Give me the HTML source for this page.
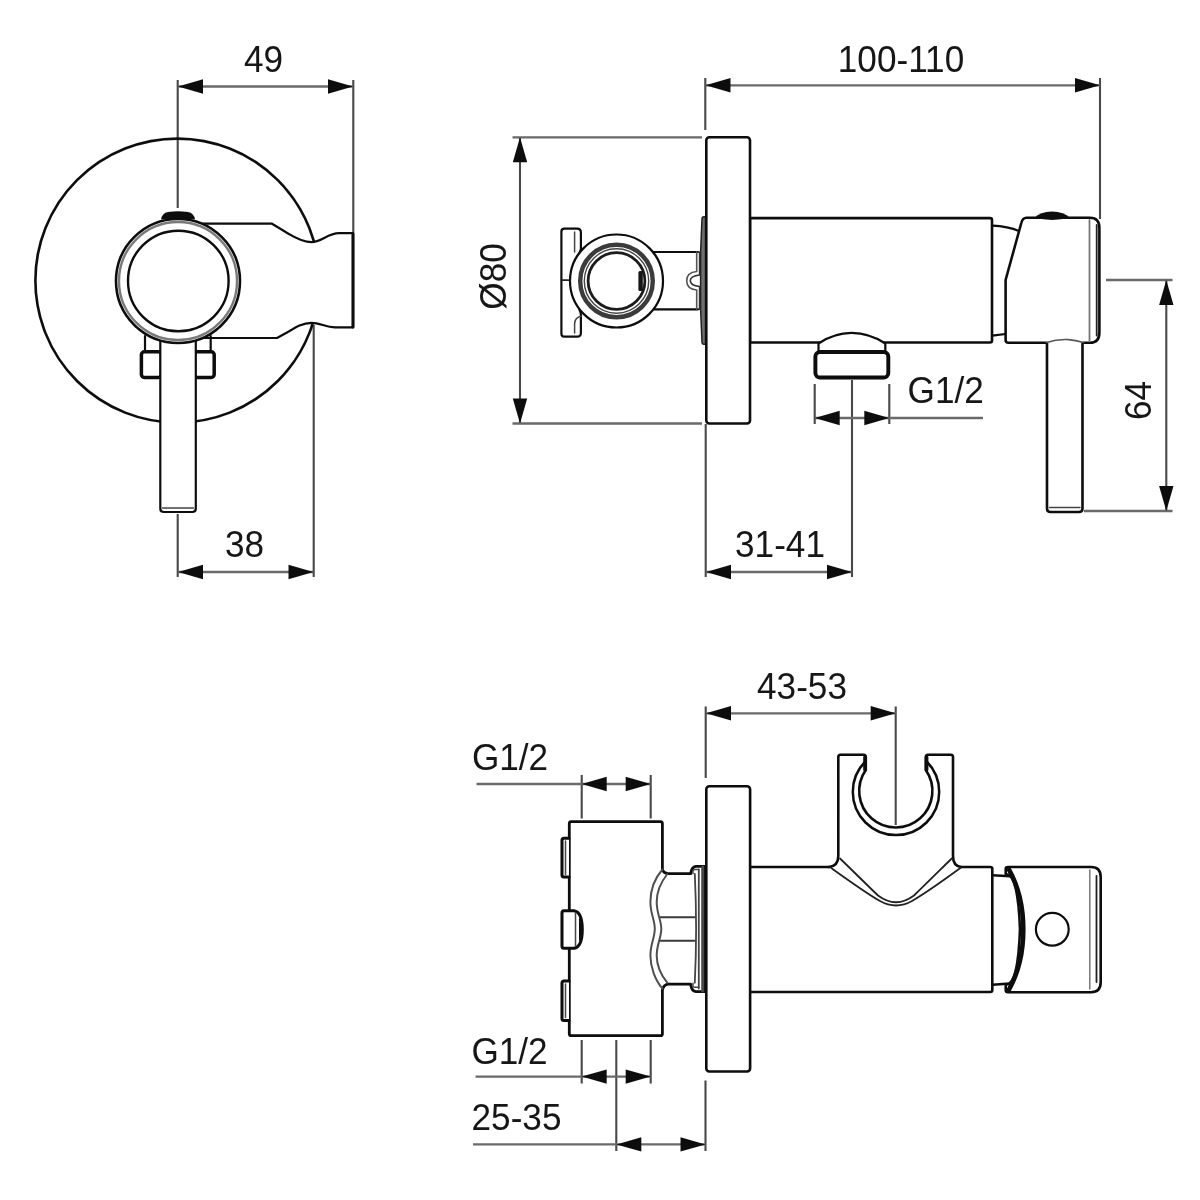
<!DOCTYPE html>
<html>
<head>
<meta charset="utf-8">
<title>Technical drawing</title>
<style>
html,body{margin:0;padding:0;background:#ffffff;}
body{width:1200px;height:1200px;overflow:hidden;font-family:"Liberation Sans",sans-serif;}
svg{display:block;}
text{font-family:"Liberation Sans",sans-serif;font-size:37.4px;fill:#161616;}
.o{fill:#ffffff;stroke:#0c0c0c;stroke-width:2.6;stroke-linejoin:round;stroke-linecap:round;}
.n{fill:none;stroke:#0c0c0c;stroke-width:2.6;stroke-linejoin:round;stroke-linecap:round;}
.k{fill:#ffffff;stroke:#0a0a0a;stroke-width:3.5;stroke-linejoin:round;stroke-linecap:round;}
.t{fill:none;stroke:#222;stroke-width:1.8;stroke-linecap:round;stroke-linejoin:round;}
.g{fill:none;stroke:#444;stroke-width:1.5;stroke-linecap:round;}
.d{fill:none;stroke:#454545;stroke-width:1.7;}
.dv{stroke:#484848;stroke-width:2.1;}
.dh{stroke:#6a6a6a;stroke-width:2.3;}
.a{fill:#111;stroke:none;}
.m{stroke-width:2.2 !important;}
</style>
</head>
<body>
<svg width="1200" height="1200" viewBox="0 0 1200 1200">
<defs>
<filter id="soft" x="-2%" y="-2%" width="104%" height="104%"><feGaussianBlur stdDeviation="0.62"/></filter>
</defs>
<rect x="0" y="0" width="1200" height="1200" fill="#ffffff"/>
<g filter="url(#soft)">

<!-- ================= VIEW 1 : front ================= -->
<g id="v1">
<!-- dimension 49 -->
<path class="d dv" d="M177.7,80 V208 M353.3,80 V234"/><path class="d dh" d="M178,86.5 H353"/>
<path class="a" d="M178,86.5 l25,-7.2 v14.4 z M353,86.5 l-25,-7.2 v14.4 z"/>
<text transform="translate(263.5,72) scale(0.94,1)" text-anchor="middle">49</text>
<!-- dimension 38 -->
<path class="d dv" d="M177.7,514 V577 M313.7,325 V577"/><path class="d dh" d="M178,572 H313.5"/>
<path class="a" d="M178,572 l25,-7.2 v14.4 z M313.5,572 l-25,-7.2 v14.4 z"/>
<text transform="translate(244.5,557) scale(0.94,1)" text-anchor="middle">38</text>
<!-- rosette -->
<circle class="n" cx="177.4" cy="280.6" r="142"/>
<!-- holder -->
<path class="o m" d="M200,223.7 L272,223.7 L284,231 C295,238 303,242.2 311.5,242.2 C321,242.2 328,233.2 339,233.2 L353,233.2 L353,327.3 L335,327.3 C326,327.3 320,322.8 311.5,322.8 C303,322.8 296,327 287,332.5 L277,338 L200,338 Z"/>
<path class="n" style="stroke-width:3" d="M353,234 V327"/>
<!-- screws -->
<path class="o m" d="M145,336 V351 M210.7,336 V351"/>
<rect class="k" x="141.4" y="351.8" width="20" height="25.7" rx="3"/>
<rect class="k" x="194.4" y="351.8" width="19.8" height="25.7" rx="3"/>
<!-- handle -->
<path class="o m" d="M160.3,330 V508.5 Q160.3,512 163.8,512 H192.3 Q195.8,512 195.8,508.5 V330 Z"/>
<path class="g" d="M162.5,508 H193.5"/>
<!-- button -->
<path class="a" d="M161,219.5 Q162,213 168,212 Q178,210.5 188,212 Q194,213 195,219.5 Z"/>
<!-- ring -->
<circle class="o" cx="178" cy="281" r="62"/>
<circle class="g" cx="178" cy="281" r="59" style="stroke-width:2.4;stroke:#7a7a7a"/>
<circle class="n" cx="178.3" cy="281" r="50.3" style="stroke-width:2.4"/>
</g>

<!-- ================= VIEW 2 : side ================= -->
<g id="v2">
<!-- dimension 100-110 -->
<path class="d dv" d="M705.3,78 V130 M1100,78 V219"/><path class="d dh" d="M705.5,85.3 H1100"/>
<path class="a" d="M705.5,85.3 l25,-7.2 v14.4 z M1100,85.3 l-25,-7.2 v14.4 z"/>
<text transform="translate(901,72) scale(0.94,1)" text-anchor="middle">100-110</text>
<!-- dimension dia 80 -->
<path class="d dv" d="M520,137.5 V423.5"/><path class="d dh" d="M512.5,137.3 H702 M512.5,423.5 H702"/>
<path class="a" d="M520,137.3 l-7.2,25 h14.4 z M520,423.5 l-7.2,-25 h14.4 z"/>
<text transform="translate(505.5,276.5) rotate(-90) scale(0.94,1)" text-anchor="middle">Ø80</text>
<!-- dimension 64 -->
<path class="d dv" d="M1166.3,280 V511"/><path class="d dh" d="M1106,280 H1172.5 M1084,511 H1172.5"/>
<path class="a" d="M1166.3,280 l-7.2,25 h14.4 z M1166.3,511 l-7.2,-25 h14.4 z"/>
<text transform="translate(1151,400.5) rotate(-90) scale(0.94,1)" text-anchor="middle">64</text>
<!-- dimension G1/2 -->
<path class="d dv" d="M814.7,384 V424 M889.3,384 V424 M852,380 V577"/><path class="d dh" d="M815,418 H983"/>
<path class="a" d="M814.7,418 l25,-7.2 v14.4 z M889.3,418 l-25,-7.2 v14.4 z"/>
<text transform="translate(945.7,403) scale(0.94,1)" text-anchor="middle">G1/2</text>
<!-- dimension 31-41 -->
<path class="d dv" d="M705.7,424 V577"/><path class="d dh" d="M706,572 H852"/>
<path class="a" d="M706,572 l25,-7.2 v14.4 z M852,572 l-25,-7.2 v14.4 z"/>
<text transform="translate(780,557) scale(0.94,1)" text-anchor="middle">31-41</text>

<!-- body -->
<path class="o" d="M750,218.1 H990 Q992,218.1 992,220.1 V340.5 Q992,342.5 990,342.5 H750 Z"/>
<!-- neck body-head -->
<path class="n m" d="M992.3,225.6 Q1008,226.3 1019,231 M992.3,335.6 L1005.5,334"/>
<!-- hose connector -->
<path class="o m" d="M818.5,352 V343.5 Q834,333 851.7,332.9 Q869.5,333 885.3,343.5 V352 Z"/>
<rect class="k" x="815.4" y="352" width="72.9" height="25.5" rx="4.5" style="stroke-width:3.9"/>
<!-- handle -->
<path class="o" d="M1047,336 V508.5 Q1047,512 1050.5,512 H1079 Q1082.5,512 1082.5,508.5 V336 Z"/>
<path class="g" d="M1049.5,507.5 H1080"/>
<!-- head -->
<path fill="#ffffff" stroke="none" d="M1026.5,217.8 H1090 Q1099.4,217.8 1099.4,228 V332.5 Q1099.4,342.8 1090,342.8 H1008.5 Q1005.6,342.8 1005.6,340 V280 L1021.3,223 Q1022.6,217.8 1026.5,217.8 Z"/>
<path class="n" d="M1046.5,342.8 H1008.5 Q1005.6,342.8 1005.6,340 V280 L1021.3,223 Q1022.6,217.8 1026.5,217.8 H1090 Q1099.4,217.8 1099.4,228 V332.5 Q1099.4,342.8 1090,342.8 H1083.5"/>
<path class="g" style="stroke:#555;stroke-width:1.7" d="M1046.5,342.5 Q1065,336.5 1083.5,342.5"/>
<path class="g" d="M1089.5,220 V340.5" style="stroke:#777;stroke-width:1.8"/>
<path class="t" d="M1096.7,225 V335.5"/>
<!-- button -->
<path class="a" d="M1034.5,217.8 Q1040,212 1052,211.5 Q1064,212 1070,217.8 Q1052,222 1034.5,217.8 Z"/>
<!-- shower holder side view: arm -->
<path fill="#ffffff" stroke="none" d="M654,252 H700 V309.3 H654 Z"/>
<path class="n m" d="M654,252 H698 M654,309.3 H698"/>
<path class="t" style="stroke:#555;stroke-width:1.6" d="M696.7,252 V271.5 Q686.7,272.5 686.7,280.7 Q686.7,289 696.7,290 V309.3"/>
<path class="t" style="stroke:#333;stroke-width:1.6" d="M699.6,252 V275 Q690.3,276 690.3,280.7 Q690.3,285.5 699.6,286.5 V309.3"/>
<!-- gasket -->
<path d="M705.5,216.7 H704 Q702,216.7 702,219 L700.6,252 V309.3 L702,342 Q702,344.3 704,344.3 H705.5 Z" fill="#6e6e6e" stroke="#222" stroke-width="1.5" stroke-linejoin="round"/>
<!-- plate -->
<rect class="o" x="706.3" y="137.3" width="43.7" height="286.2" rx="3"/>
<path class="o m" d="M564.4,228.7 H577 Q580.9,228.7 580.9,232.5 V249 L570,281 L580.9,314 Q580.9,320 580.9,322 V333 Q580.9,336.7 577,336.7 H564.4 Q561.4,336.7 561.4,333.7 V231.7 Q561.4,228.7 564.4,228.7 Z"/>
<path class="g" d="M574.6,232 V252 M574.6,333 V324 Q574.6,317.5 581.5,316"/>
<path class="t" d="M561.4,280.2 H569.5"/>
<circle class="o m" cx="616.5" cy="281" r="46.5"/>
<circle class="n" cx="616.5" cy="281" r="36.3" style="stroke-width:4.4;stroke:#3a3a3a"/>
<circle class="g" cx="616.5" cy="281" r="32.2" style="stroke:#444;stroke-width:1.4"/>
<circle class="n" cx="616.5" cy="281" r="28.4" style="stroke-width:2.8;stroke:#1a1a1a"/>
<rect x="638.4" y="271" width="4.4" height="20" rx="1.5" fill="#151515"/>
</g>

<!-- ================= VIEW 3 : top ================= -->
<g id="v3">
<!-- dimension 43-53 -->
<path class="d dv" d="M705.7,706.5 V778 M895.7,706.5 V825"/><path class="d dh" d="M706,713.3 H895.7"/>
<path class="a" d="M706,713.3 l25,-7.2 v14.4 z M895.7,713.3 l-25,-7.2 v14.4 z"/>
<text transform="translate(802,699) scale(0.94,1)" text-anchor="middle">43-53</text>
<!-- dimension G1/2 top -->
<path class="d dv" d="M581.7,775 V818.5 M650.7,775 V818.5"/><path class="d dh" d="M476.5,784 H650.7"/>
<path class="a" d="M581.7,784 l25,-7.2 v14.4 z M650.7,784 l-25,-7.2 v14.4 z"/>
<text transform="translate(510,769.5) scale(0.94,1)" text-anchor="middle">G1/2</text>
<!-- dimension G1/2 bottom -->
<path class="d dv" d="M581.7,1040 V1083.5 M650.7,1040 V1083.5 M616.3,1040 V1151"/><path class="d dh" d="M475.5,1076.6 H650.7"/>
<path class="a" d="M581.7,1076.6 l25,-7.2 v14.4 z M650.7,1076.6 l-25,-7.2 v14.4 z"/>
<text transform="translate(509.5,1063.5) scale(0.94,1)" text-anchor="middle">G1/2</text>
<!-- dimension 25-35 -->
<path class="d dv" d="M705.5,1080.5 V1151"/><path class="d dh" d="M473,1144.4 H705.5"/>
<path class="a" d="M616.3,1144.4 l25,-7.2 v14.4 z M705.5,1144.4 l-25,-7.2 v14.4 z"/>
<text transform="translate(516.5,1130) scale(0.94,1)" text-anchor="middle">25-35</text>

<!-- body -->
<path class="n" d="M750.5,867 H829 M961,867 H990.3 Q992.3,867 992.3,869 V990 Q992.3,992 990.3,992 H750.5"/>
<!-- holder top view -->
<path class="o" d="M829,867 Q838.3,866 838.3,856 V757 Q838.3,754.8 840.5,754.8 H863.5 Q865.8,754.8 865.8,757 V770 A36.6,36.6 0 1 0 925.8,770 V757 Q925.8,754.8 928,754.8 H950.8 Q953,754.8 953,757 V856 Q953,866 961,867" />
<path class="n" style="stroke-width:3.6" d="M865,757 V770 M926.6,757 V770"/>
<path class="n" style="stroke-width:2.5" d="M865.3,761.5 A43.2,43.2 0 1 0 926.7,761.5"/>
<path class="t" d="M831,867.8 C848,880 866,893 880,901 Q896,910 912,901 C926,893 944,880 960.7,867.8"/>
<path class="t" d="M840,858.5 C852,870 866,884 878,895.5 Q896,909 914,895.5 C926,884 940,870 951.7,858.5"/>
<!-- neck -->
<path class="n" d="M992.5,875.3 L1010,876.3 M992.5,984.7 L1010,983.5"/>
<!-- head -->
<path class="o" d="M1008,867 H1091 Q1100.7,867 1100.7,877 V982 Q1100.7,992.2 1091,992.2 H1008 Q1005.7,992.2 1005.7,990 V985 Q1018,985 1020,929.5 Q1018,874 1005.7,874 V869 Q1005.7,867 1008,867 Z"/>
<path class="n" style="stroke-width:4.6" d="M1009,869.5 Q1023.3,895 1023.3,929.5 Q1023.3,964 1009,989.5"/>
<path class="g" d="M1089.8,870 V989" style="stroke:#777"/>
<path class="t" d="M1096.5,876 V982"/>
<circle class="n" cx="1052.3" cy="929.3" r="16.4" style="stroke-width:2.2"/>
<!-- plate -->
<rect class="o" x="706.3" y="786.3" width="43.8" height="285.2" rx="3"/>
<!-- box -->
<path class="k" d="M571.3,821.7 H660.4 Q662.4,821.7 662.4,823.7 V869.5 Q663.5,873 668,873.7 H690.6 Q691.5,867 696,866.3 H705 V991.7 H696 Q691.5,991 690.6,984.2 H668 Q663.5,985 662.4,990 V1033.7 Q662.4,1035.7 660.4,1035.7 H571.3 Q569.3,1035.7 569.3,1033.7 V823.7 Q569.3,821.7 571.3,821.7 Z" style="stroke-width:2.8"/>
<!-- nubs -->
<path class="k" style="stroke-width:3" d="M569,838.3 H564 Q562,838.3 562,840.3 V875 Q562,877 564,877 H569"/>
<path class="k" style="stroke-width:3" d="M569,981 H564 Q562,981 562,983 V1018.5 Q562,1020.5 564,1020.5 H569"/>
<path class="g" d="M565.5,841 V874.5 M565.5,984 V1017.5"/>
<path class="k" style="stroke-width:3" d="M569,910.7 H574 Q582.3,912 582.3,929.5 Q582.3,947 574,948.3 H569 H564 Q562,948.3 562,946.3 V912.7 Q562,910.7 564,910.7 Z"/>
<path class="a" d="M579,916 Q584.5,929.5 579,943 Z"/>
<path class="g" d="M575.5,912.5 V946.5"/>
<!-- connector nut -->
<path class="t" style="stroke:#505050;stroke-width:2" d="M662.4,869.5 C655,878 650.4,890 650.4,902 C650.4,914 654.8,920 654.8,928.8 C654.8,938 650.4,944 650.4,955.5 C650.4,967 655,980 662.4,988.5"/>
<path class="t" style="stroke:#505050;stroke-width:2" d="M667.3,874 C661,882 656.7,892 656.7,902 C656.7,914 661.3,920 661.3,928.8 C661.3,938 656.7,944 656.7,955.5 C656.7,966 661,975 667.3,982.7"/>
<path class="t" style="stroke:#3a3a3a;stroke-width:2" d="M660.7,917.3 H694.7 M660.7,940.7 H694.7"/>
<path class="t" style="stroke:#444" d="M694.8,874 Q697.4,929 694.8,982.7 M698.8,869.5 V988.5"/>
<path class="g" d="M693,873.5 V871 Q693,869.4 694.6,869.4 H698.8 M693,983.2 V985.7 Q693,987.3 694.6,987.3 H698.8"/>
<path class="n" style="stroke-width:3;stroke:#4a4a4a" d="M702.7,867 V991"/>
</g>
</g>
</svg>
</body>
</html>
